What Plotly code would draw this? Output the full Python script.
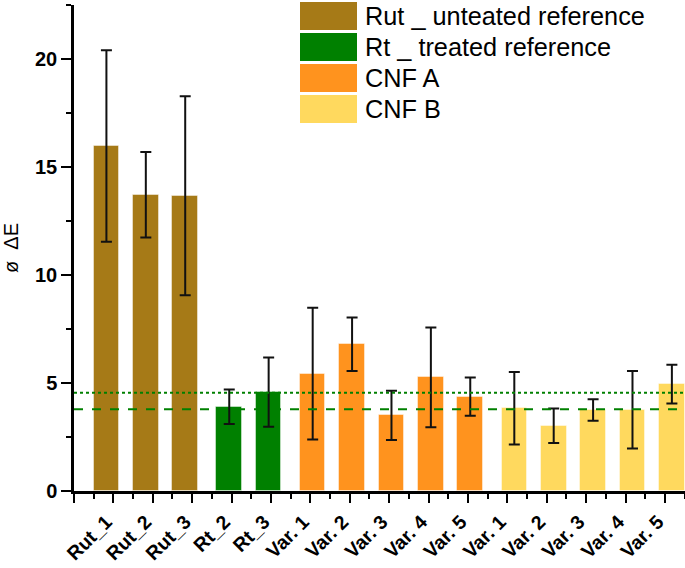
import plotly.graph_objects as go

# ---- data ----
group_names = ["Rut _ unteated reference", "Rt _ treated reference", "CNF A", "CNF B"]
group_colors = ["#A67A17", "#008000", "#FF931E", "#FFD95E"]

rut_labels = ["Rut_1", "Rut_2", "Rut_3"]
rut_means = [15.97, 13.72, 13.67]
rut_errs = [4.43, 1.98, 4.61]

rt_labels = ["Rt_2", "Rt_3"]
rt_means = [3.90, 4.58]
rt_errs = [0.80, 1.60]

cnfa_labels = ["Var. 1", "Var. 2", "Var. 3", "Var. 4", "Var. 5"]
cnfa_means = [5.43, 6.79, 3.50, 5.26, 4.37]
cnfa_errs = [3.05, 1.24, 1.14, 2.31, 0.89]

cnfb_labels = ["Var. 1", "Var. 2", "Var. 3", "Var. 4", "Var. 5"]
cnfb_means = [3.83, 3.02, 3.75, 3.76, 4.95]
cnfb_errs = [1.68, 0.80, 0.50, 1.79, 0.90]

ref_dotted = 4.55   # treated reference level (dotted)
ref_dashed = 3.79   # treated reference level (dashed)

y_title = "ø  ΔE"

# ---- layout constants ----
W, H = 685, 568
ML, MR, MT, MB = 74, 0, 5, 77
PW, PH = W - ML - MR, H - MT - MB
FONT = "Liberation Sans, Arial, sans-serif"
GROUP_SHIFT = 0.118
BAR_W = 0.65

groups = [
    (rut_labels, rut_means, rut_errs),
    (rt_labels, rt_means, rt_errs),
    (cnfa_labels, cnfa_means, cnfa_errs),
    (cnfb_labels, cnfb_means, cnfb_errs),
]

fig = go.Figure()
all_labels = []
k = 0
for g, (labels, means, errs) in enumerate(groups):
    xs = []
    for _ in labels:
        xs.append(k + GROUP_SHIFT * (g - 1.5))
        k += 1
    all_labels.extend(labels)
    fig.add_trace(go.Bar(
        x=xs, y=means, width=BAR_W, name=group_names[g],
        marker=dict(color=group_colors[g], line=dict(color="rgba(255,255,255,0.45)", width=1)),
        error_y=dict(type="data", array=errs, visible=True, color="#111111", thickness=2, width=5.5),
        showlegend=False, cliponaxis=False,
    ))

n = len(all_labels)

# reference lines
fig.add_shape(type="line", xref="paper", yref="y", x0=0, x1=1, y0=ref_dotted, y1=ref_dotted,
              line=dict(color="#008000", width=2, dash="dot"), layer="above")
fig.add_shape(type="line", xref="paper", yref="y", x0=0, x1=1, y0=ref_dashed, y1=ref_dashed,
              line=dict(color="#008000", width=2, dash="dash"), layer="above")

# custom legend (large swatches)
def px_x(p):
    return (p - ML) / PW

def px_y(p):
    return (H - MB - p) / PH

sw_left, sw_right = 300, 357
sw_h, sw_step, sw_top0 = 28, 31, 2
for i, (name, col) in enumerate(zip(group_names, group_colors)):
    top = sw_top0 + i * sw_step
    fig.add_shape(type="rect", xref="paper", yref="paper",
                  x0=px_x(sw_left), x1=px_x(sw_right), y0=px_y(top + sw_h), y1=px_y(top),
                  fillcolor=col, line=dict(width=0), layer="above")
    fig.add_annotation(xref="paper", yref="paper", x=px_x(363), y=px_y(top + sw_h / 2),
                       text=name, showarrow=False, xanchor="left", yanchor="middle",
                       font=dict(family=FONT, size=25.3, color="#000000"))

fig.update_layout(
    width=W, height=H,
    margin=dict(l=ML, r=MR, t=MT, b=MB, pad=0, autoexpand=False),
    paper_bgcolor="white", plot_bgcolor="white",
    bargap=0,
    font=dict(family=FONT, color="#000000"),
)

fig.update_xaxes(
    automargin=False,
    range=[-1, n - 0.49],
    tickmode="array",
    tickvals=list(range(-1, n)),
    ticktext=[""] + all_labels,
    tickangle=-45,
    tickfont=dict(family=FONT, size=19.5, color="#000000", weight="bold"),
    ticks="outside", ticklen=9, tickwidth=2, tickcolor="#000000",
    ticklabelshift=-7,
    minor=dict(tickmode="array", tickvals=[i + 0.5 for i in range(-1, n)],
               ticks="outside", ticklen=5, tickwidth=2, tickcolor="#000000"),
    showline=True, linecolor="#000000", linewidth=2.5,
    showgrid=False, zeroline=False,
)

fig.update_yaxes(
    automargin=False,
    range=[0, 22.5],
    tickmode="linear", tick0=0, dtick=5,
    tickfont=dict(family=FONT, size=20, color="#000000", weight="bold"),
    ticks="outside", ticklen=10, tickwidth=2, tickcolor="#000000",
    minor=dict(tick0=0, dtick=2.5, ticks="outside", ticklen=5, tickwidth=2, tickcolor="#000000"),
    showline=True, linecolor="#000000", linewidth=2.5,
    showgrid=False, zeroline=False,
    title=dict(text=y_title, font=dict(family=FONT, size=20, color="#000000"), standoff=12),
)

fig.write_html(
    "out.html",
    config={"displayModeBar": False},
    post_script="document.body.style.margin='0';document.body.style.overflow='hidden';",
)
